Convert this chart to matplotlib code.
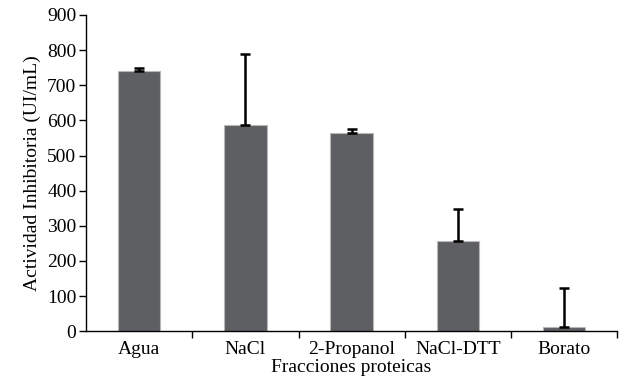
import matplotlib
matplotlib.use('Agg')
import matplotlib.pyplot as plt
import numpy as np

plt.rcParams['font.family'] = ['Liberation Serif', 'DejaVu Serif']

fracciones = ['Agua', 'NaCl', '2-Propanol', 'NaCl-DTT', 'Borato']
actividad = [741, 587, 563, 257, 13]
error_sup = [8, 202, 12, 92, 111]

fig = plt.figure(figsize=(6.24, 3.83), dpi=100)
ax = fig.add_axes([0.138, 0.135, 0.851, 0.826])

pos = np.arange(len(fracciones))
ax.bar(pos, actividad, width=0.4, color='#5e5f63', edgecolor='#b8b8b8', linewidth=0.8)
ax.errorbar(pos, actividad, yerr=[np.zeros(len(pos)), error_sup], fmt='none',
            ecolor='black', elinewidth=1.8, capsize=3.5, capthick=1.8)

ax.set_xlim(-0.5, 4.5)
ax.set_ylim(0, 900)
ax.set_yticks(np.arange(0, 901, 100))
ax.set_xticks(pos)
ax.set_xticklabels(fracciones)
ax.set_xticks(np.arange(0.5, 4.6, 1.0), minor=True)
ax.tick_params(axis='x', which='major', length=0, labelsize=14, pad=7)
ax.tick_params(axis='x', which='minor', length=5, width=1, direction='out')
ax.tick_params(axis='y', length=5, width=1, direction='out', labelsize=14, pad=2)

for s in ['top', 'right']:
    ax.spines[s].set_visible(False)
for s in ['left', 'bottom']:
    ax.spines[s].set_linewidth(1)

ax.set_ylabel('Actividad Inhibitoria (UI/mL)', fontsize=14, labelpad=4)
ax.set_xlabel('Fracciones proteicas', fontsize=14, labelpad=1)

plt.savefig('out.png', dpi=100)
